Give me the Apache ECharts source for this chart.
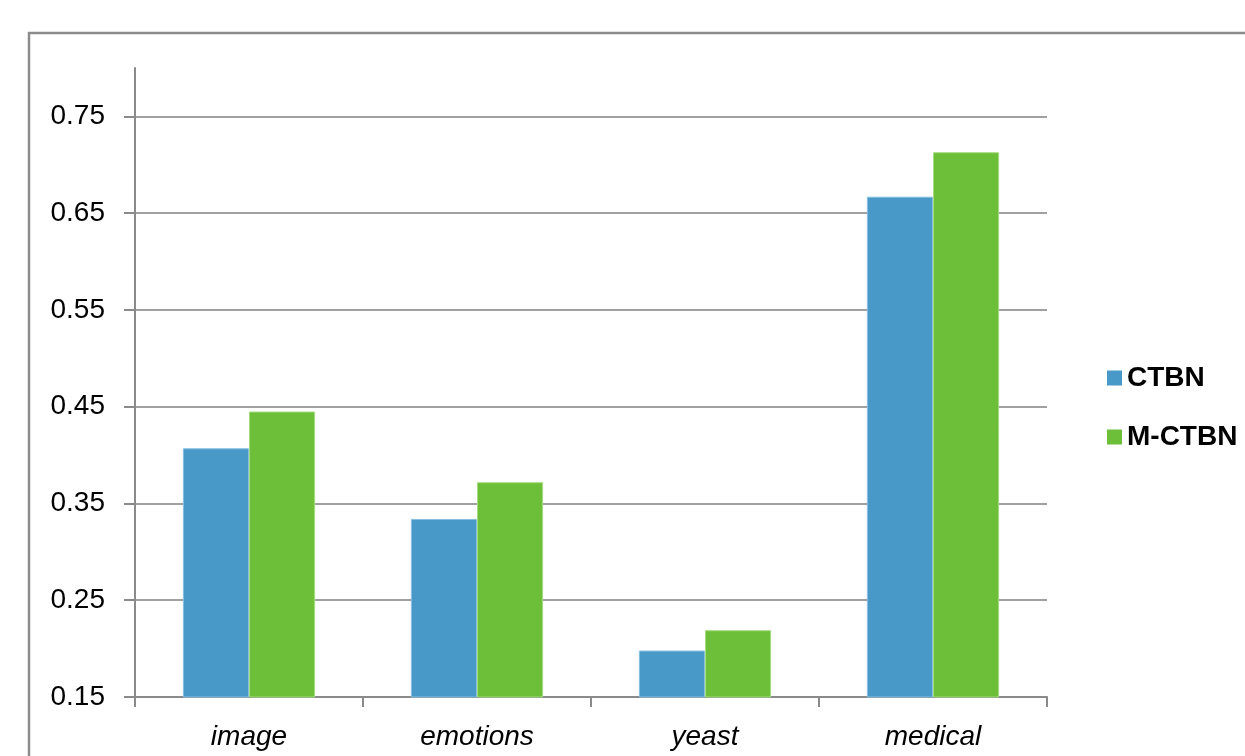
<!DOCTYPE html>
<html>
<head>
<meta charset="utf-8">
<script src="https://cdn.jsdelivr.net/npm/echarts@6/dist/echarts.min.js"></script>
<style>
html,body{margin:0;padding:0;background:#fff;}
#c{width:1245px;height:756px;}
</style>
</head>
<body>
<div id="c"></div>
<script>
var categories = ['image', 'emotions', 'yeast', 'medical'];
var seriesNames = ['CTBN', 'M-CTBN'];
var ctbn = [0.407, 0.334, 0.198, 0.667];
var mctbn = [0.445, 0.372, 0.219, 0.713];

var chart = echarts.init(document.getElementById('c'), null, {renderer: 'canvas'});
var font = '"Liberation Sans", Arial, sans-serif';
chart.setOption({
  backgroundColor: '#ffffff',
  animation: false,
  graphic: [{
    type: 'rect',
    shape: {x: 29, y: 33, width: 1400, height: 900},
    style: {fill: 'none', stroke: '#8c8c8c', lineWidth: 2.5},
    silent: true
  }],
  grid: {left: 135, right: 198, top: 68, bottom: 59, containLabel: false},
  legend: {
    orient: 'vertical',
    left: 1102,
    top: 359,
    itemWidth: 15,
    itemHeight: 15,
    itemGap: 31,
    icon: 'rect',
    itemStyle: {borderWidth: 0},
    data: seriesNames,
    textStyle: {fontFamily: font, fontWeight: 'bold', fontSize: 28, color: '#000', padding: [0, 0, 0, 0]}
  },
  xAxis: {
    type: 'category',
    data: categories,
    boundaryGap: true,
    axisLine: {lineStyle: {color: '#8a8a8a', width: 2}},
    axisTick: {show: true, length: 10, lineStyle: {color: '#8a8a8a', width: 2}},
    axisLabel: {fontFamily: font, fontStyle: 'italic', fontSize: 28, color: '#000', margin: 26},
    splitLine: {show: false}
  },
  yAxis: {
    type: 'value',
    min: 0.15,
    max: 0.8,
    interval: 0.1,
    axisLine: {show: true, lineStyle: {color: '#8a8a8a', width: 2}},
    axisTick: {show: true, length: 11, lineStyle: {color: '#8a8a8a', width: 2}},
    axisLabel: {
      fontFamily: font, fontSize: 28, color: '#000', margin: 30,
      showMaxLabel: false,
      formatter: function (v) { return v.toFixed(2); }
    },
    splitLine: {show: true, showMaxLine: false, lineStyle: {color: '#a0a0a0', width: 2}}
  },
  series: [
    {
      name: seriesNames[0], type: 'bar', data: ctbn,
      barGap: '0%', barCategoryGap: '42%',
      itemStyle: {color: '#4899c8', borderColor: '#86bfe0', borderWidth: 1}
    },
    {
      name: seriesNames[1], type: 'bar', data: mctbn,
      barGap: '0%', barCategoryGap: '42%',
      itemStyle: {color: '#6dbf39', borderColor: '#a5dc80', borderWidth: 1}
    }
  ]
});
</script>
</body>
</html>
